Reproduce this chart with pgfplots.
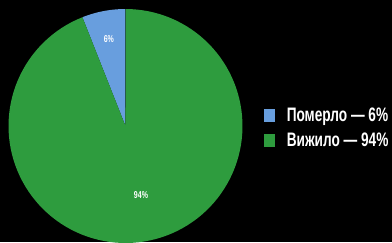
\documentclass[border=0pt]{standalone}
\usepackage{fontspec}
\setmainfont{Liberation Sans}[FakeStretch=0.70]
\usepackage{pgfplots}
\usepackage{pgfplotstable}
\pgfplotsset{compat=1.18}
\definecolor{pieblue}{RGB}{104,158,222}
\definecolor{piegreen}{RGB}{46,156,62}
\pgfplotstableread{
value
6
94
}\piedata
\begin{document}
\begin{tikzpicture}
\pgfplotstablegetelem{0}{value}\of\piedata \edef\va{\pgfplotsretval}
\pgfplotstablegetelem{1}{value}\of\piedata \edef\vb{\pgfplotsretval}
\pgfmathsetmacro\aA{90}
\pgfmathsetmacro\aB{90+3.6*\va}
\pgfmathsetmacro\aC{\aB+3.6*\vb}
\pgfmathsetmacro\mA{(\aA+\aB)/2}
\pgfmathsetmacro\mB{(\aB+\aC)/2}
\fill[black] (0,0) rectangle (392pt,242pt);
\begin{scope}[overlay]
\clip (0,0) rectangle (392pt,242pt);
\begin{axis}[at={(8.5pt,-1pt)}, anchor=south west, scale only axis,
  width=234pt, height=234pt, xmin=-1, xmax=1, ymin=-1, ymax=1,
  hide axis, clip=false,
  legend style={at={(1.09,0.492)}, anchor=west, draw=none, fill=none,
    text=white, font=\bfseries\fontsize{19.5}{22}\selectfont,
    row sep=6pt, inner sep=0pt,
    /tikz/every odd column/.append style={column sep=10pt}},
  legend cell align=left,
  legend image code/.code={\fill[#1] (0pt,-6.5pt) rectangle (11pt,6.5pt);},
]
\addplot[draw=none, fill=pieblue, domain=\aA:\aB, samples=20]
  ({cos(x)},{sin(x)}) -- (axis cs:0,0) -- cycle;
\addlegendentry{Померло — 6\%}
\addplot[draw=none, fill=piegreen, domain=\aB:\aC, samples=120]
  ({cos(x)},{sin(x)}) -- (axis cs:0,0) -- cycle;
\addlegendentry{Вижило — 94\%}
\node[text=white, font=\bfseries\fontsize{10}{12}\selectfont] at (axis cs:{0.76*cos(\mA)},{0.76*sin(\mA)}) {6\%};
\node[text=white, font=\bfseries\fontsize{10}{12}\selectfont] at (axis cs:{0.6*cos(\mB)+0.02},{0.6*sin(\mB)}) {94\%};
\end{axis}
\end{scope}
\end{tikzpicture}
\end{document}
